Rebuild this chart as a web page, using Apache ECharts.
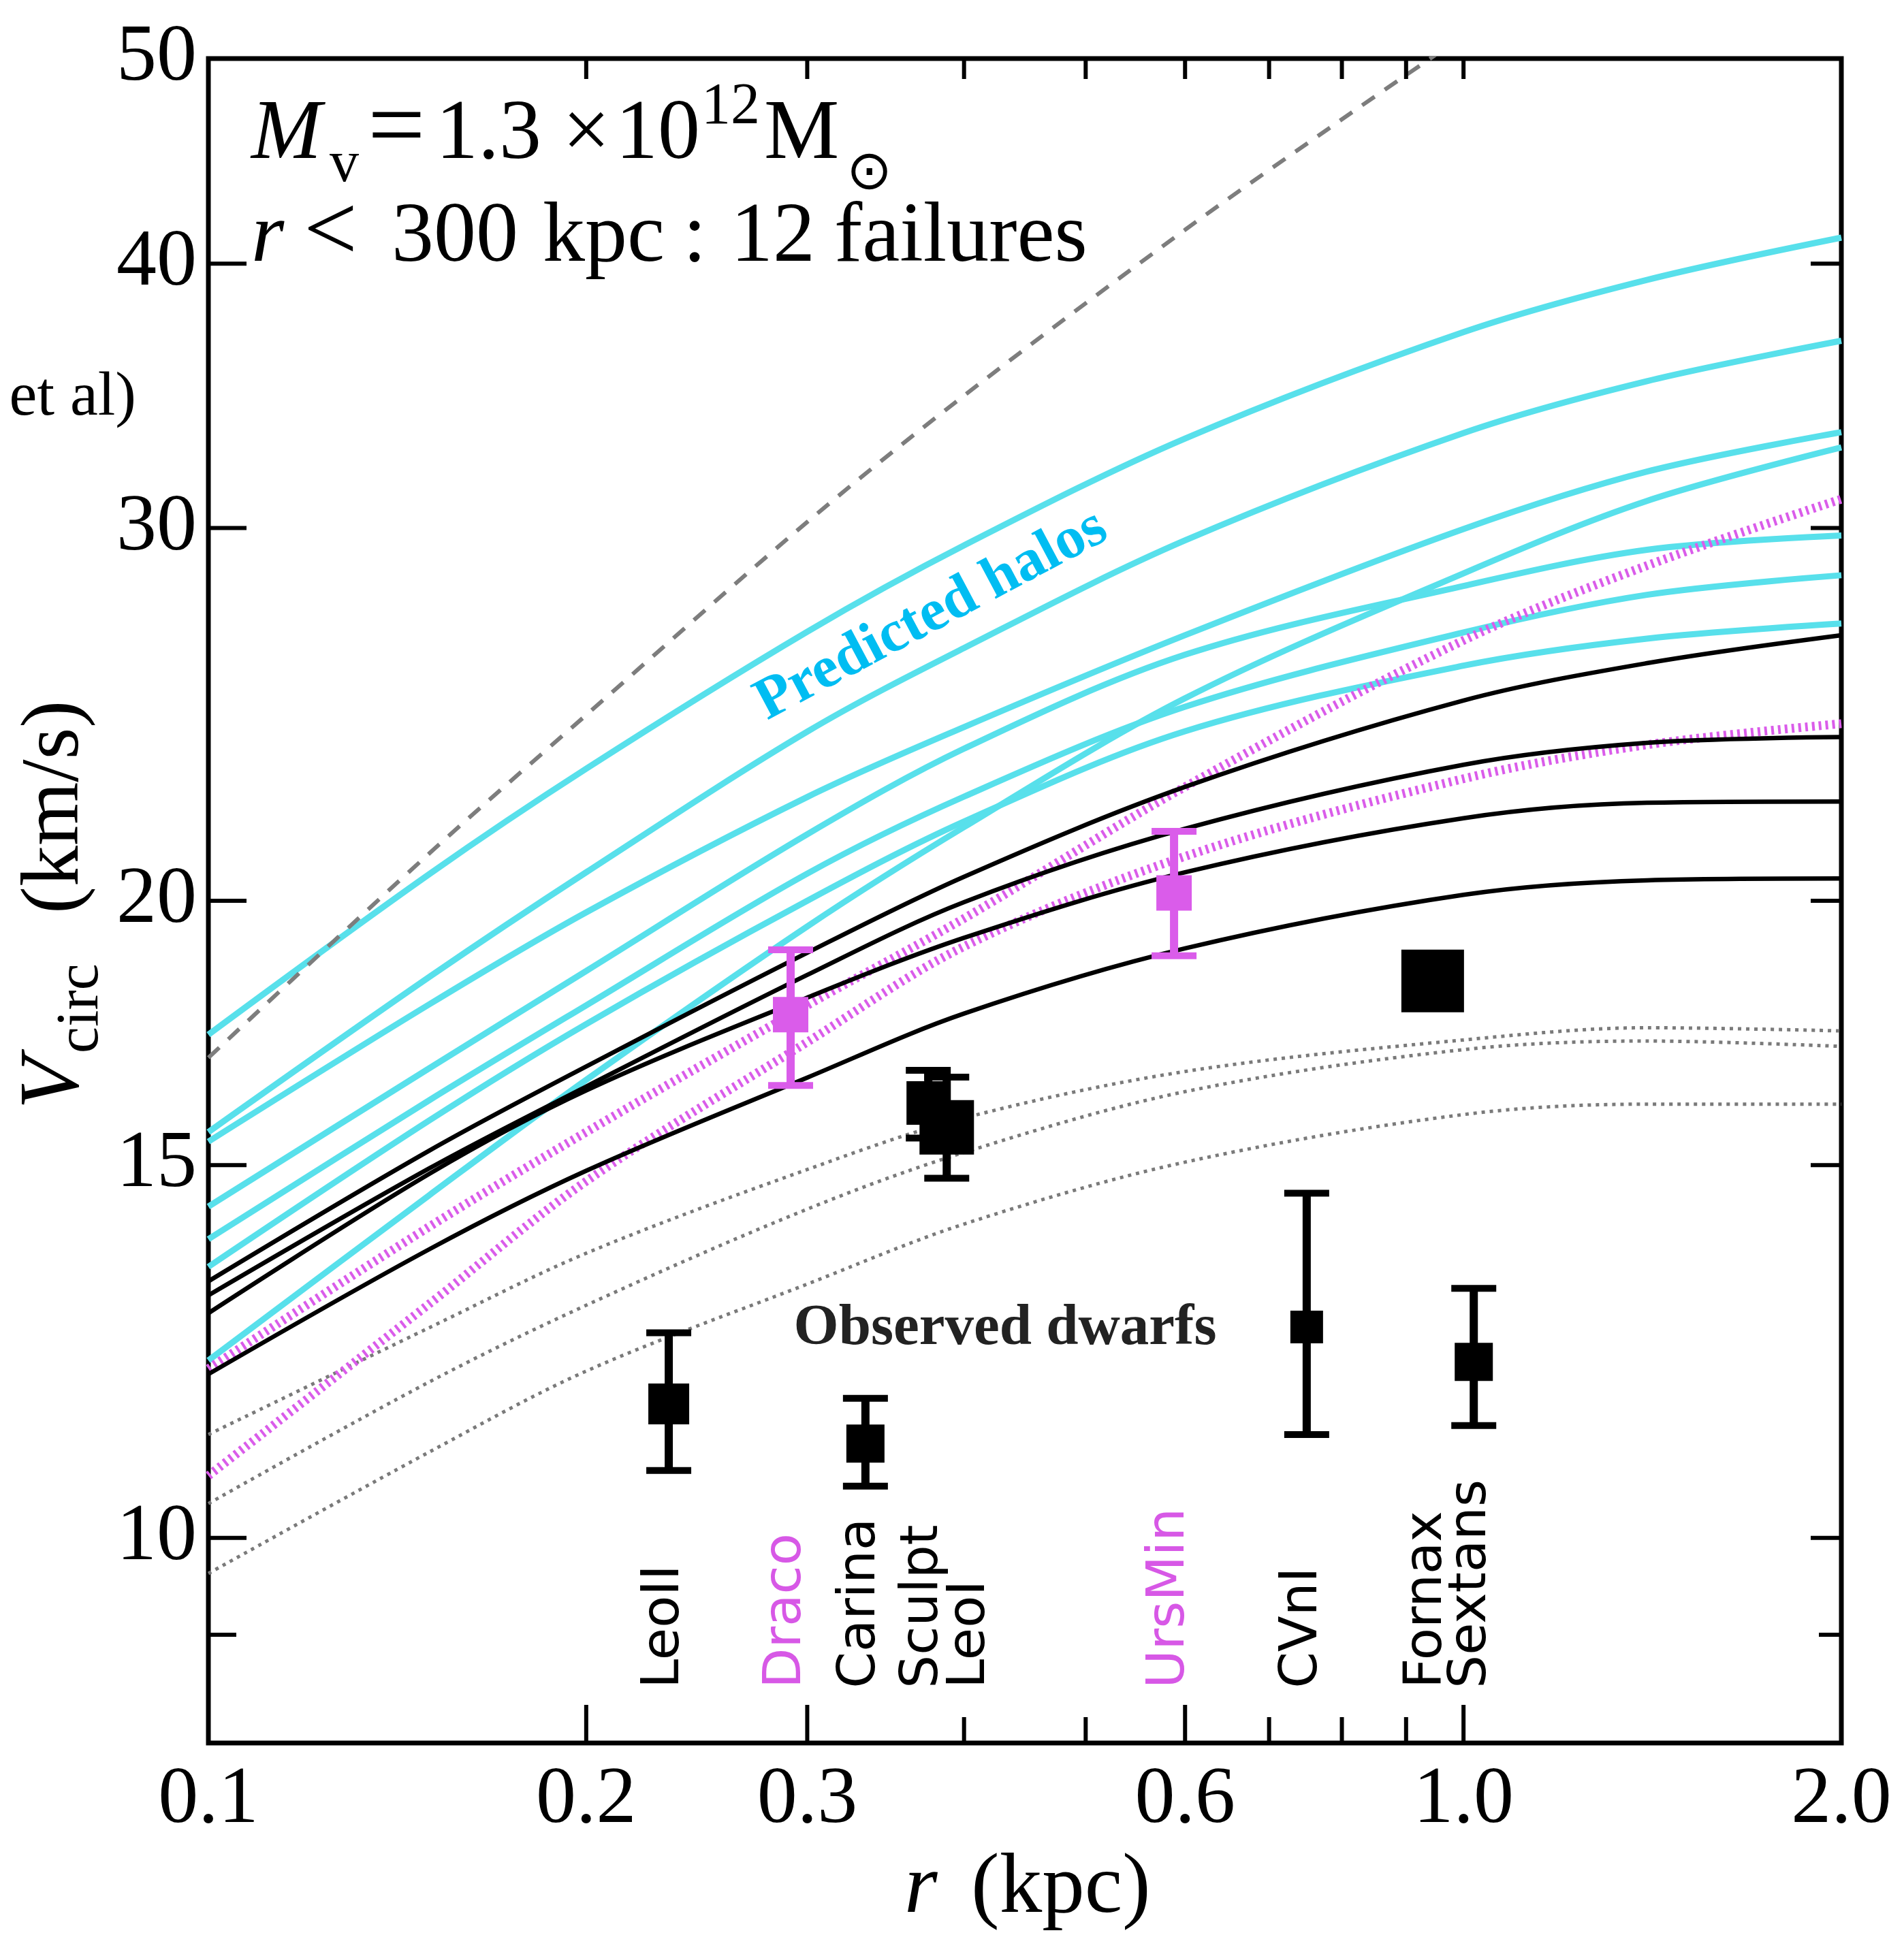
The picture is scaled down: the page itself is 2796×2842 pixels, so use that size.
<!DOCTYPE html>
<html><head><meta charset="utf-8">
<script src="https://cdn.jsdelivr.net/npm/echarts@6/dist/echarts.min.js"></script>
<style>html,body{margin:0;padding:0;background:#fff}#c{width:2796px;height:2842px}</style>
</head><body><div id="c"></div>
<script>
// ---------------- data ----------------
const rGrid = [0.1, 0.15, 0.2, 0.3, 0.4, 0.6, 1.0, 1.4, 2.0];

// predicted halos (cyan)
const cyan1 = [17.29, 20.59, 23.09, 26.8, 29.44, 33.07, 37.13, 39.3, 41.15];
const cyan2 = [15.55, 18.41, 20.63, 24.04, 26.33, 29.6, 33.27, 35.2, 36.78];
const cyan3 = [15.39, 17.87, 19.75, 22.39, 24.16, 26.7, 29.97, 31.9, 33.3];
const cyan4 = [14.34, 16.67, 18.53, 21.5, 23.6, 26.14, 28.17, 29.3, 29.76];
const cyan5 = [13.84, 16.1, 17.85, 20.6, 22.4, 24.7, 26.78, 27.9, 28.5];
const cyan6 = [13.43, 15.75, 17.49, 20.0, 21.8, 24.05, 25.83, 26.6, 27.04];
const cyan7 = [12.13, 14.52, 16.46, 19.45, 21.67, 24.93, 28.56, 30.9, 32.75];

// magenta dotted
const mag1 = [12.02, 14.03, 15.55, 17.85, 19.62, 22.64, 26.55, 28.8, 30.96];
const mag2 = [10.70, 12.90, 14.74, 17.15, 19.03, 20.99, 22.84, 23.7, 24.25];

// black solid
const blk1 = [13.22, 15.24, 16.70, 18.9, 20.53, 22.64, 24.87, 25.9, 26.7];
const blk2 = [13.02, 14.95, 16.34, 18.45, 19.97, 21.63, 23.19, 23.75, 23.9];
const blk3 = [12.77, 14.86, 16.27, 18.0, 19.21, 20.63, 21.88, 22.25, 22.28];
const blk4 = [11.95, 13.69, 14.91, 16.5, 17.69, 18.99, 20.13, 20.45, 20.49];

// gray dotted
const gry1 = [11.19, 12.57, 13.63, 14.93, 15.79, 16.61, 17.19, 17.42, 17.36];
const gry2 = [10.38, 11.85, 12.88, 14.3, 15.21, 16.25, 17.01, 17.17, 17.07];
const gry3 = [9.62, 10.98, 11.99, 13.18, 14.07, 15.05, 15.85, 16.03, 16.03];

// gray dashed
const dashR = [0.1, 0.15, 0.2, 0.3, 0.4, 0.6, 0.8, 0.95];
const dashV = [16.86, 21.06, 24.48, 30.2, 34.65, 41.5, 46.8, 50.2];

// observed dwarfs
const dwarfNames = ['LeoII', 'Draco', 'Carina', 'Sculpt', 'LeoI', 'UrsMin', 'CVnI', 'Fornax', 'Sextans'];
const dwarfR  = [0.2327, 0.291, 0.3338, 0.3746, 0.3875, 0.588, 0.750, 0.945, 1.019];
const dwarfV  = [11.57, 17.67, 11.08, 16.05, 15.63, 20.17, 12.58, 18.33, 12.11];
const dwarfLo = [10.76, 16.36, 10.58, 15.45, 14.79, 18.84, 11.19, 18.33, 11.30];
const dwarfHi = [12.50, 18.96, 11.64, 16.63, 16.51, 21.57, 14.55, 18.33, 13.12];
const magentaDwarfs = ['Draco', 'UrsMin'];

// axes
const X_MIN = 0.1, X_MAX = 2.0, Y_MIN = 8, Y_MAX = 50;
const xTickMajor = [0.2, 0.3, 0.6, 1.0];
const xTickMinor = [0.4, 0.5, 0.7, 0.8, 0.9];
const xTickLabelValues = [0.1, 0.2, 0.3, 0.6, 1.0, 2.0];
const xTickLabels = ['0.1', '0.2', '0.3', '0.6', '1.0', '2.0'];
const yTickMajor = [10, 15, 20, 30, 40, 50];
const yTickMinor = [9];
const yTickLabelValues = [10, 15, 20, 30, 40, 50];
const yTickLabels = ['10', '15', '20', '30', '40', '50'];

// ---------------- styles ----------------
const CYAN = '#58E0EB', MAGENTA = '#DA5CEA', MAG_TXT = '#D758E6';
const SERIF = '"Liberation Serif", "Times New Roman", serif';
const SANS = '"DejaVu Sans", sans-serif';
const markerSize = {LeoII: 60, Draco: 52, Carina: 56, Sculpt: 64, LeoI: 80, UrsMin: 52, CVnI: 48, Fornax: 92, Sextans: 56};
const labelDx = {LeoII: -6, Draco: -6, Carina: -7, Sculpt: -7, LeoI: 35, UrsMin: -6, CVnI: -6, Fornax: -8, Sextans: -3};
const LABEL_V = 8.49;

const chart = echarts.init(document.getElementById('c'), null, {renderer: 'canvas', width: 2796, height: 2842});

function curve(vals, color, width, type, z, xs) {
  const rs = xs || rGrid;
  return {
    type: 'line', data: rs.map((r, i) => [r, vals[i]]), smooth: 0.33,
    symbol: 'none', silent: true, z: z, clip: true,
    lineStyle: {color: color, width: width, type: type, cap: 'butt'}
  };
}

function tickSeries(values, lenBottom, lenTop, vertical) {
  return {
    type: 'custom', coordinateSystem: 'cartesian2d', clip: false, silent: true, z: 30,
    data: values.map(v => vertical ? [v, Y_MIN] : [X_MIN, v]),
    encode: {x: 0, y: 1},
    renderItem: function (params, api) {
      const st = {stroke: '#000', lineWidth: 6};
      if (vertical) {
        const v = api.value(0);
        const b = api.coord([v, Y_MIN]), t = api.coord([v, Y_MAX]);
        return {type: 'group', children: [
          {type: 'line', shape: {x1: b[0], y1: b[1], x2: b[0], y2: b[1] - lenBottom}, style: st},
          {type: 'line', shape: {x1: t[0], y1: t[1], x2: t[0], y2: t[1] + lenTop}, style: st}
        ]};
      } else {
        const v = api.value(1);
        const l = api.coord([X_MIN, v]), r = api.coord([X_MAX, v]);
        return {type: 'group', children: [
          {type: 'line', shape: {x1: l[0], y1: l[1], x2: l[0] + lenBottom, y2: l[1]}, style: st},
          {type: 'line', shape: {x1: r[0], y1: r[1], x2: r[0] - lenTop, y2: r[1]}, style: st}
        ]};
      }
    }
  };
}

function labelSeries(values, texts, vertical) {
  return {
    type: 'custom', coordinateSystem: 'cartesian2d', clip: false, silent: true, z: 30,
    data: values.map(v => vertical ? [v, Y_MIN] : [X_MIN, v]),
    encode: {x: 0, y: 1},
    renderItem: function (params, api) {
      const txt = texts[params.dataIndex];
      if (vertical) {
        const p = api.coord([api.value(0), Y_MIN]);
        return {type: 'text', x: p[0], y: p[1] + 26,
          style: {text: txt, fill: '#000', font: '118px ' + SERIF, align: 'center', textAlign: 'center', verticalAlign: 'top', textVerticalAlign: 'top'}};
      } else {
        const p = api.coord([X_MIN, api.value(1)]);
        return {type: 'text', x: p[0] - 17, y: p[1],
          style: {text: txt, fill: '#000', font: '118px ' + SERIF, align: 'right', textAlign: 'right', verticalAlign: 'middle', textVerticalAlign: 'middle'}};
      }
    }
  };
}

const dwarfSeries = {
  type: 'custom', coordinateSystem: 'cartesian2d', clip: false, silent: true, z: 20,
  data: dwarfNames.map((n, i) => [dwarfR[i], dwarfV[i], dwarfLo[i], dwarfHi[i]]),
  encode: {x: 0, y: 1},
  renderItem: function (params, api) {
    const i = params.dataIndex, name = dwarfNames[i];
    const r = api.value(0), v = api.value(1), lo = api.value(2), hi = api.value(3);
    const c = api.coord([r, v]), pl = api.coord([r, lo]), ph = api.coord([r, hi]);
    const color = magentaDwarfs.indexOf(name) >= 0 ? MAGENTA : '#000';
    const s = markerSize[name], cw = 33;
    const ch = [];
    if (hi > lo) {
      ch.push({type: 'line', shape: {x1: c[0], y1: pl[1], x2: c[0], y2: ph[1]}, style: {stroke: color, lineWidth: 12}});
      ch.push({type: 'line', shape: {x1: c[0] - cw, y1: pl[1], x2: c[0] + cw, y2: pl[1]}, style: {stroke: color, lineWidth: 10}});
      ch.push({type: 'line', shape: {x1: c[0] - cw, y1: ph[1], x2: c[0] + cw, y2: ph[1]}, style: {stroke: color, lineWidth: 10}});
    }
    ch.push({type: 'rect', shape: {x: c[0] - s / 2, y: c[1] - s / 2, width: s, height: s}, style: {fill: color}});
    const lp = api.coord([r, LABEL_V]);
    ch.push({type: 'text', x: c[0] + labelDx[name], y: lp[1], rotation: Math.PI / 2,
      style: {text: name, fill: color === '#000' ? '#000' : MAG_TXT, font: '77px ' + SANS,
        align: 'left', textAlign: 'left', verticalAlign: 'middle', textVerticalAlign: 'middle'}});
    return {type: 'group', children: ch};
  }
};

function T(text, x, y, font, align) {
  const a = align || 'left';
  return {type: 'text', x: x, y: y, silent: true, z: 50,
    style: {text: text, font: font, fill: '#000', align: a, textAlign: a, verticalAlign: 'middle', textVerticalAlign: 'middle'}};
}
const F1 = '124px ' + SERIF, F1I = 'italic 124px ' + SERIF, FS = '86px ' + SERIF, FW = '150px ' + SERIF;

const graphics = [
  // line 1: M_v = 1.3 x 10^12 M_sun
  T('M', 369, 199, F1I), T('v', 484, 243, FS), T('=', 540, 194, FW), T('1.3', 640, 199, F1),
  T('×', 826, 199, F1), T('10', 904, 199, F1), T('12', 1030, 158, FS), T('M', 1122, 199, F1),
  T('⊙', 1243, 256, '80px ' + SANS),
  // line 2
  T('r', 369, 350, F1I), T('<', 446, 345, '140px ' + SERIF), T('300', 575, 350, F1), T('kpc', 797, 350, F1),
  T(':', 1003, 350, F1), T('12', 1073, 350, F1), T('failures', 1225, 350, F1),
  // cropped caption fragment
  T('et al)', 200, 585, '92px ' + SERIF, 'right'),
  // axis titles
  T('r', 1328, 2775, 'italic 125px ' + SERIF), T('(kpc)', 1426, 2775, '125px ' + SERIF),
  {type: 'group', x: 123, y: 1629, rotation: Math.PI / 2, silent: true, z: 50, children: [
    T('V', 0, -42, 'italic 125px ' + SERIF), T('circ', 82, -3, '88px ' + SERIF), T('(km/s)', 287, -41, '120px ' + SERIF)
  ]},
  // annotations
  {type: 'text', x: 1368, y: 904, rotation: 28 * Math.PI / 180, silent: true, z: 50,
    style: {text: 'Predicted halos', font: 'bold 87px ' + SERIF, fill: '#00BDF2', align: 'center', textAlign: 'center', verticalAlign: 'middle', textVerticalAlign: 'middle'}},
  {type: 'text', x: 1476, y: 1952, silent: true, z: 50,
    style: {text: 'Observed dwarfs', font: 'bold 85px ' + SERIF, fill: '#222', align: 'center', textAlign: 'center', verticalAlign: 'middle', textVerticalAlign: 'middle'}}
];

const option = {
  animation: false,
  backgroundColor: '#fff',
  grid: {left: 306, top: 86, width: 2398, height: 2474, show: true, borderColor: '#000', borderWidth: 7, backgroundColor: 'transparent'},
  xAxis: {type: 'log', logBase: 10, min: X_MIN, max: X_MAX, axisLine: {show: false}, axisTick: {show: false}, axisLabel: {show: false}, splitLine: {show: false}},
  yAxis: {type: 'log', logBase: 10, min: Y_MIN, max: Y_MAX, axisLine: {show: false}, axisTick: {show: false}, axisLabel: {show: false}, splitLine: {show: false}},
  series: [
    curve(cyan1, CYAN, 9, 'solid', 2), curve(cyan2, CYAN, 9, 'solid', 2), curve(cyan3, CYAN, 9, 'solid', 2),
    curve(cyan4, CYAN, 9, 'solid', 2), curve(cyan5, CYAN, 9, 'solid', 2), curve(cyan6, CYAN, 9, 'solid', 2),
    curve(cyan7, CYAN, 9, 'solid', 2),
    curve(gry1, '#7a7a7a', 5, [5, 7], 3), curve(gry2, '#7a7a7a', 5, [5, 7], 3), curve(gry3, '#7a7a7a', 5, [5, 7], 3),
    curve(dashV, '#7d7d7d', 6, [22, 18], 3, dashR),
    curve(mag1, MAGENTA, 13, [4, 6], 4), curve(mag2, MAGENTA, 13, [4, 6], 4),
    curve(blk1, '#000', 6.5, 'solid', 5), curve(blk2, '#000', 6.5, 'solid', 5), curve(blk3, '#000', 6.5, 'solid', 5),
    curve(blk4, '#000', 6.5, 'solid', 5),
    dwarfSeries,
    tickSeries(xTickMajor, 56, 30, true), tickSeries(xTickMinor, 38, 30, true),
    tickSeries(yTickMajor, 56, 45, false), tickSeries(yTickMinor, 41, 33, false),
    labelSeries(xTickLabelValues, xTickLabels, true), labelSeries(yTickLabelValues, yTickLabels, false)
  ],
  graphic: graphics
};
chart.setOption(option);
</script></body></html>
